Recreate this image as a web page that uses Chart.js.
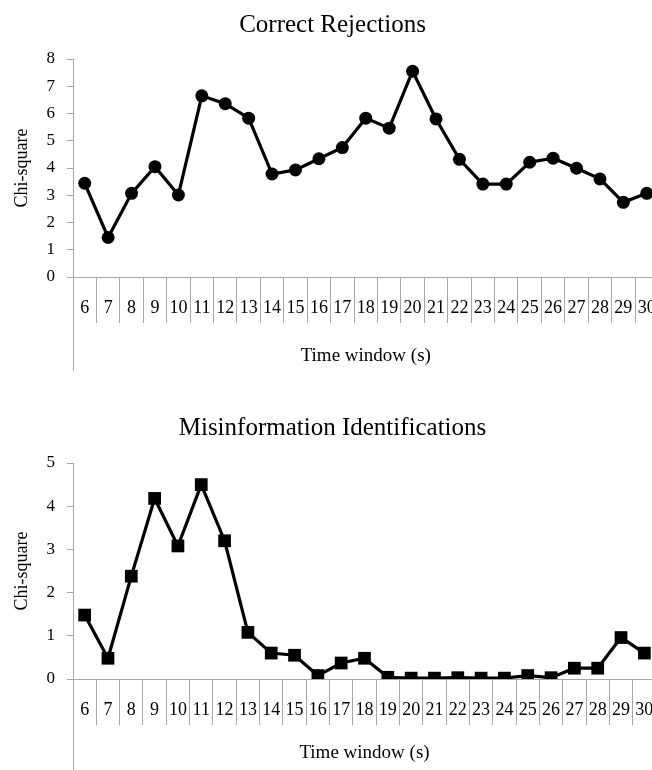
<!DOCTYPE html>
<html>
<head>
<meta charset="utf-8">
<script src="https://cdn.jsdelivr.net/npm/chart.js@4.4.0/dist/chart.umd.min.js"></script>
<style>
  html, body { margin: 0; padding: 0; background: #fff; overflow: hidden; }
  canvas { display: block; }
</style>
</head>
<body>
<canvas id="rejChart" width="665" height="385"></canvas>
<canvas id="misChart" width="665" height="385"></canvas>
<script>
const timeWindows = ["6","7","8","9","10","11","12","13","14","15","16","17","18","19","20","21","22","23","24","25","26","27","28","29","30"];
const correctRejections = [3.44, 1.45, 3.07, 4.05, 3.01, 6.65, 6.36, 5.83, 3.78, 3.93, 4.34, 4.75, 5.83, 5.46, 7.55, 5.80, 4.32, 3.41, 3.41, 4.21, 4.36, 3.99, 3.60, 2.74, 3.07];
const misinfoIdentifications = [1.48, 0.48, 2.38, 4.18, 3.08, 4.50, 3.20, 1.08, 0.60, 0.55, 0.08, 0.37, 0.48, 0.04, 0.02, 0.02, 0.03, 0.02, 0.02, 0.08, 0.03, 0.25, 0.25, 0.96, 0.60];

const axisGray = "#a6a6a6";
const serif = "'Liberation Serif', 'Times New Roman', serif";

// y axis line runs on past the category labels, like the original
const axisExtension = {
    id: "axisExtension",
    afterDraw(chart, args, opts) {
        const ctx = chart.ctx;
        const a = chart.chartArea;
        ctx.save();
        ctx.strokeStyle = axisGray;
        ctx.lineWidth = 1;
        ctx.beginPath();
        ctx.moveTo(a.left + 0.5, a.bottom);
        ctx.lineTo(a.left + 0.5, a.bottom + opts.length);
        ctx.stroke();
        ctx.restore();
    }
};

function makeChart(id, title, values, yMax, style, layout) {
    return new Chart(document.getElementById(id), {
        type: "line",
        data: {
            labels: timeWindows,
            datasets: [{
                data: values,
                borderColor: "#000",
                backgroundColor: "#000",
                borderWidth: 3.2,
                pointStyle: style.shape,
                pointRadius: style.radius,
                pointBorderWidth: 0,
                tension: 0
            }]
        },
        options: {
            responsive: false,
            animation: false,
            layout: { padding: 0 },
            plugins: {
                legend: { display: false },
                tooltip: { enabled: false },
                title: {
                    display: true,
                    text: title,
                    color: "#000",
                    font: { family: serif, size: 25, weight: "normal" },
                    padding: layout.titlePad
                },
                axisExtension: { length: layout.ext }
            },
            scales: {
                x: {
                    offset: true,
                    grid: {
                        offset: true,
                        drawOnChartArea: false,
                        tickLength: 46,
                        color: axisGray
                    },
                    border: { color: axisGray },
                    ticks: {
                        color: "#000",
                        font: { family: serif, size: 18 },
                        padding: -26,
                        maxRotation: 0,
                        autoSkip: false
                    },
                    title: {
                        display: true,
                        text: "Time window (s)",
                        color: "#000",
                        font: { family: serif, size: 19 },
                        padding: { top: 0, bottom: layout.xTitlePad }
                    },
                    afterFit(scale) { scale.height = layout.xHeight; }
                },
                y: {
                    min: 0,
                    max: yMax,
                    grid: {
                        drawOnChartArea: false,
                        tickLength: 6,
                        color: axisGray
                    },
                    border: { color: axisGray },
                    ticks: {
                        stepSize: 1,
                        color: "#000",
                        font: { family: serif, size: 17 },
                        padding: 12
                    },
                    title: {
                        display: true,
                        text: "Chi-square",
                        color: "#000",
                        font: { family: serif, size: 18 },
                        padding: { top: 11, bottom: 0 }
                    },
                    afterFit(scale) { scale.width = 73; }
                }
            }
        },
        plugins: [axisExtension]
    });
}

makeChart("rejChart", "Correct Rejections", correctRejections, 8,
    { shape: "circle", radius: 6.5 },
    { titlePad: { top: 10, bottom: 19 }, xHeight: 108, xTitlePad: 18, ext: 94 });

makeChart("misChart", "Misinformation Identifications", misinfoIdentifications, 5,
    { shape: "rect", radius: 9 },
    { titlePad: { top: 28, bottom: 20 }, xHeight: 91, xTitlePad: 6, ext: 91 });
</script>
</body>
</html>
